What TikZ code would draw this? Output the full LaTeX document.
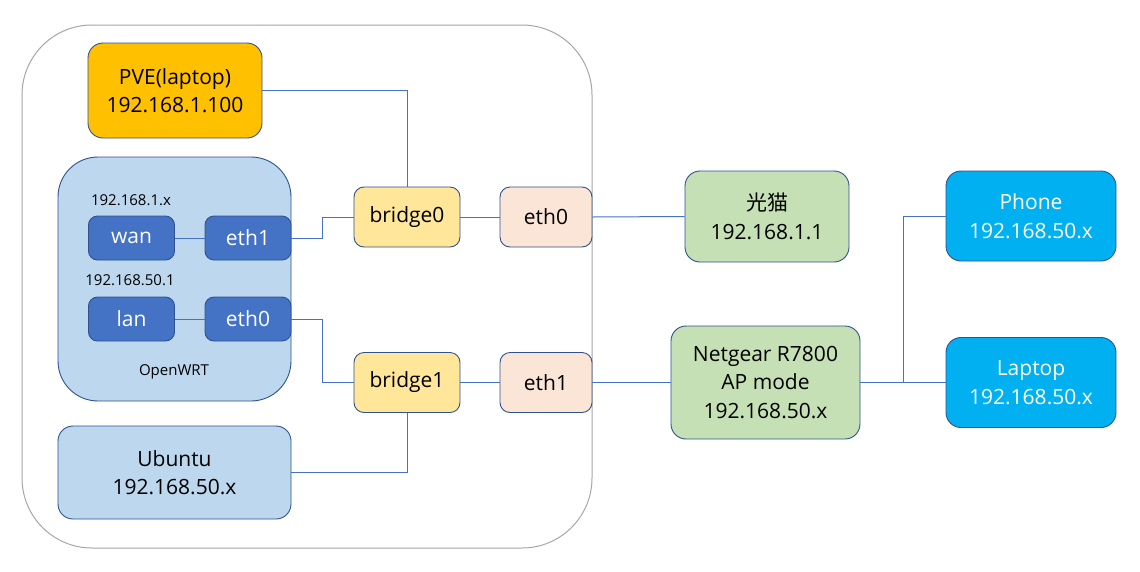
\documentclass[tikz,border=0pt]{standalone}
\usepackage{fontspec}
\setmainfont{Open Sans}
\newfontfamily\cjk{Noto Sans CJK SC}
\usetikzlibrary{positioning}

\definecolor{boxline}{HTML}{2F528F}
\definecolor{wire}{HTML}{4472C4}
\definecolor{pvefill}{HTML}{FFC000}
\definecolor{vmfill}{HTML}{BDD7EE}
\definecolor{portfill}{HTML}{4472C4}
\definecolor{brfill}{HTML}{FFE699}
\definecolor{nicfill}{HTML}{FBE5D6}
\definecolor{netfill}{HTML}{C5E0B4}
\definecolor{devfill}{HTML}{00B0F0}

\tikzset{
  box/.style={draw=boxline,line width=0.9pt,rounded corners=15pt,align=center,
    inner sep=0pt,font=\fontsize{21}{28.5}\selectfont},
  port/.style={box,fill=portfill,text=white,rounded corners=9pt,
    minimum width=86pt,minimum height=44pt},
  bridgebox/.style={box,fill=brfill,rounded corners=10pt,
    minimum width=106pt,minimum height=60pt},
  nicbox/.style={box,fill=nicfill,rounded corners=10pt,
    minimum width=92pt,minimum height=60pt},
  devbox/.style={box,fill=devfill,text=white,
    minimum width=170pt,minimum height=90pt},
  small/.style={font=\fontsize{15}{18}\selectfont},
  wireline/.style={draw=wire,line width=1pt},
}

\begin{document}
\begin{tikzpicture}[x=1pt,y=-1pt]
  \useasboundingbox[fill=white] (0,0) rectangle (1140,571);
  % host
  \draw[gray!70,line width=1pt,rounded corners=70pt] (22,25) rectangle (592,548);

  \node[box,fill=pvefill,minimum width=174pt,minimum height=95pt] (pve) at (175,90.5) {PVE(laptop)\\192.168.1.100};

  % openwrt vm
  \node[box,fill=vmfill,rounded corners=40pt,minimum width=233pt,minimum height=244pt] (openwrt) at (174.5,279) {};
  \node[small] (owlabel) at (174,372) {OpenWRT};
  \node[small] (wanip) at (131,200) {192.168.1.x};
  \node[small] (lanip) at (130,280) {192.168.50.1};
  \node[port] (wan) at (131.5,238) {wan};
  \node[port] (vmeth1) at (248,238) {eth1};
  \node[port] (lan) at (131.5,319) {lan};
  \node[port] (vmeth0) at (248,319) {eth0};

  \node[box,fill=vmfill,minimum width=233pt,minimum height=93pt] (ubuntu) at (174.5,472.5) {Ubuntu\\192.168.50.x};

  % bridges and nics
  \node[bridgebox] (bridge0) at (407,217) {bridge0};
  \node[bridgebox] (bridge1) at (407,382.5) {bridge1};
  \node[nicbox] (eth0) at (546,217) {eth0};
  \node[nicbox] (eth1) at (546,382.5) {eth1};

  % outside
  \node[box,fill=netfill,minimum width=164pt,minimum height=91pt] (modem) at (767,216.5) {{\cjk 光猫}\\192.168.1.1};
  \node[box,fill=netfill,minimum width=189pt,minimum height=113pt] (netgear) at (765.5,382.5) {Netgear R7800\\AP mode\\192.168.50.x};
  \node[devbox] (phone) at (1031,216) {Phone\\192.168.50.x};
  \node[devbox] (laptop) at (1031,382.5) {Laptop\\192.168.50.x};
  \coordinate (split) at (903,382.5);

  % wires
  \draw[wireline] (wan) -- (vmeth1);
  \draw[wireline] (lan) -- (vmeth0);
  \draw[wireline] (pve.east) -| (bridge0.north);
  \draw[wireline] (vmeth1.east) -- ++(31,0) |- (bridge0.west);
  \draw[wireline] (vmeth0.east) -- ++(31,0) |- (bridge1.west);
  \draw[wireline] (ubuntu.east) -| (bridge1.south);
  \draw[wireline] (bridge0) -- (eth0);
  \draw[wireline] (bridge1) -- (eth1);
  \draw[wireline] (eth0.east) -- (modem.west);
  \draw[wireline] (eth1.east) -- (netgear.west);
  \draw[wireline] (netgear.east) -- (laptop.west);
  \draw[wireline] (phone.west) -| (split);
\end{tikzpicture}
\end{document}
